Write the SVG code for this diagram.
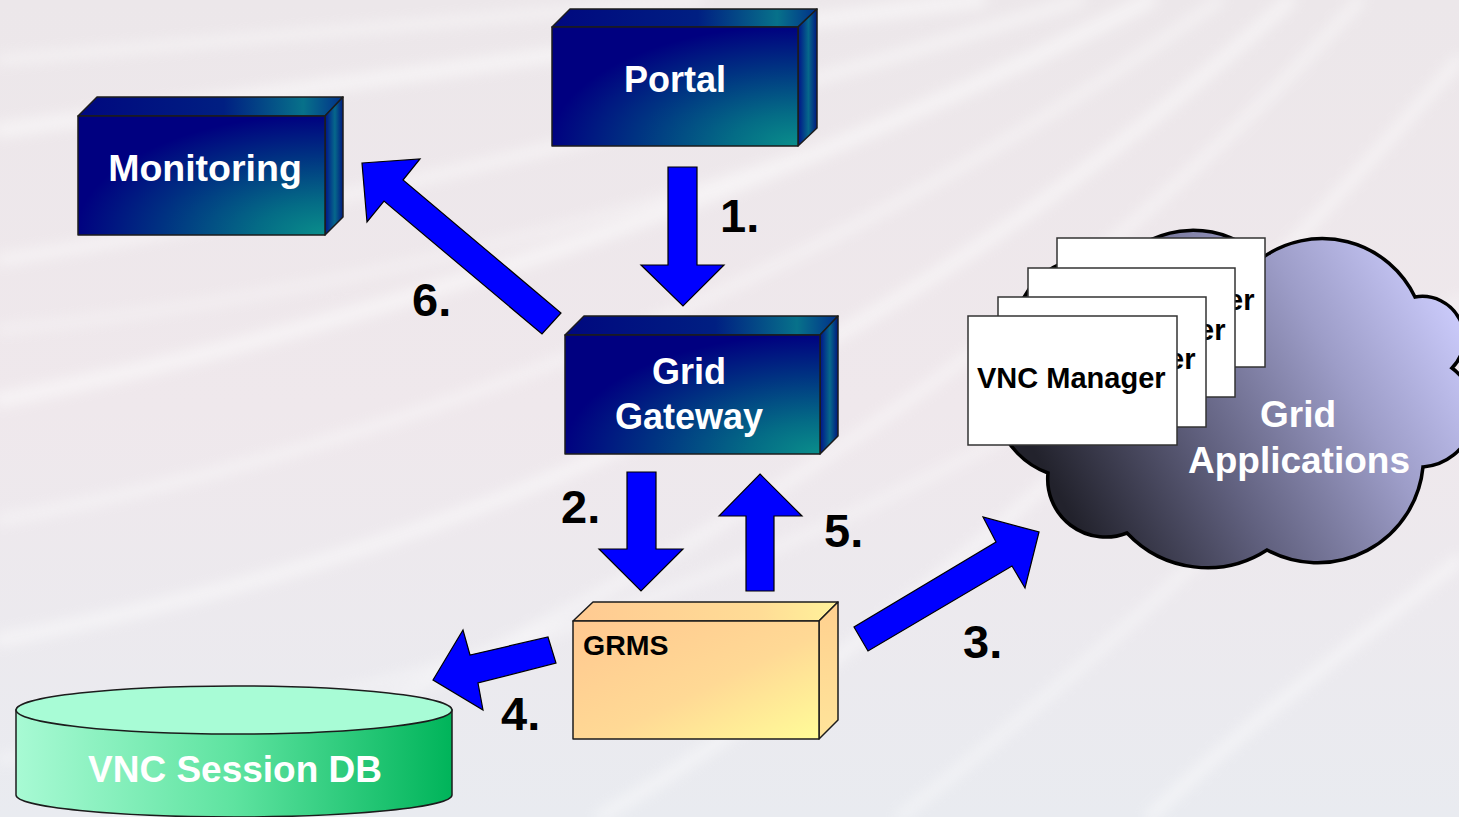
<svg xmlns="http://www.w3.org/2000/svg" width="1459" height="817" viewBox="0 0 1459 817">
  <style>
    .lbl { font-family: "Liberation Sans", Arial, sans-serif; font-weight: bold; }
    .w { fill: #ffffff; }
    .k { fill: #000000; }
    .step { font-size: 47px; fill: #000000; }
    .edge { stroke: #1c1c1c; stroke-width: 1.5; stroke-linejoin: round; }
    .arrow { fill: #0000ff; stroke: #000000; stroke-width: 1.2; stroke-linejoin: miter; }
    .card { fill: #ffffff; stroke: #333333; stroke-width: 1.5; }
  </style>
  <defs>
    <linearGradient id="bg" x1="0" y1="0" x2="0" y2="1">
      <stop offset="0" stop-color="#ece7ea"/>
      <stop offset="0.5" stop-color="#efe8ec"/>
      <stop offset="1" stop-color="#e9ebf0"/>
    </linearGradient>
    <filter id="soft" x="-10%" y="-10%" width="120%" height="120%">
      <feGaussianBlur stdDeviation="7"/>
    </filter>
    <radialGradient id="navyFront" cx="1" cy="1" r="1.1" fx="1" fy="1">
      <stop offset="0" stop-color="#0a8e8b"/>
      <stop offset="0.25" stop-color="#046c86"/>
      <stop offset="0.6" stop-color="#003382"/>
      <stop offset="0.92" stop-color="#000080"/>
    </radialGradient>
    <linearGradient id="navyTop" x1="0" y1="0" x2="1" y2="0">
      <stop offset="0" stop-color="#00087f"/>
      <stop offset="0.55" stop-color="#001f82"/>
      <stop offset="0.85" stop-color="#07718a"/>
      <stop offset="1" stop-color="#01308a"/>
    </linearGradient>
    <linearGradient id="navySide" x1="0" y1="0" x2="1" y2="0">
      <stop offset="0" stop-color="#001288"/>
      <stop offset="0.55" stop-color="#06688b"/>
      <stop offset="1" stop-color="#00187e"/>
    </linearGradient>
    <linearGradient id="peachFront" x1="0" y1="0" x2="1" y2="1">
      <stop offset="0" stop-color="#ffc890"/>
      <stop offset="0.55" stop-color="#ffd995"/>
      <stop offset="1" stop-color="#fffc98"/>
    </linearGradient>
    <linearGradient id="peachTop" x1="0" y1="0" x2="1" y2="0">
      <stop offset="0" stop-color="#ffca92"/>
      <stop offset="0.7" stop-color="#ffdc96"/>
      <stop offset="1" stop-color="#fff29a"/>
    </linearGradient>
    <linearGradient id="peachSide" x1="0" y1="0" x2="0" y2="1">
      <stop offset="0" stop-color="#ffd08f"/>
      <stop offset="1" stop-color="#ffe49a"/>
    </linearGradient>
    <linearGradient id="cloudFill" gradientUnits="userSpaceOnUse" x1="1070" y1="515" x2="1450" y2="300">
      <stop offset="0" stop-color="#22222c"/>
      <stop offset="0.35" stop-color="#60607e"/>
      <stop offset="0.7" stop-color="#9d9dc8"/>
      <stop offset="1" stop-color="#cacafa"/>
    </linearGradient>
    <linearGradient id="dbBody" x1="0" y1="0" x2="1" y2="0">
      <stop offset="0" stop-color="#a8fad4"/>
      <stop offset="0.5" stop-color="#5ee3a0"/>
      <stop offset="1" stop-color="#00b45a"/>
    </linearGradient>
    <!-- visible parts of the stacked cards (the card in front covers the rest) -->
    <clipPath id="clipCard4"><polygon points="1057,238 1265,238 1265,367 1235,367 1235,268 1057,268"/></clipPath>
    <clipPath id="clipCard3"><polygon points="1028,268 1235,268 1235,397 1206,397 1206,297 1028,297"/></clipPath>
    <clipPath id="clipCard2"><polygon points="998,297 1206,297 1206,427 1177,427 1177,316 998,316"/></clipPath>
  </defs>

  <!-- backdrop with soft light streaks -->
  <rect x="0" y="0" width="1459" height="817" fill="url(#bg)"/>
  <g fill="none" stroke="#ffffff" stroke-linecap="round" filter="url(#soft)" opacity="0.55">
    <path d="M0,130 C300,90 650,40 980,0" stroke-width="14"/>
    <path d="M0,260 C320,210 700,120 1080,0" stroke-width="10"/>
    <path d="M0,400 C350,330 760,200 1150,0" stroke-width="14"/>
    <path d="M0,520 C380,450 800,300 1220,0" stroke-width="8"/>
    <path d="M0,640 C420,560 850,400 1290,0" stroke-width="12"/>
    <path d="M120,817 C520,660 980,420 1360,0" stroke-width="9"/>
    <path d="M600,817 C900,640 1180,380 1459,60" stroke-width="10"/>
    <path d="M900,817 C1100,660 1300,470 1459,300" stroke-width="8"/>
    <path d="M1150,817 C1250,720 1360,640 1459,560" stroke-width="10"/>
    <path d="M0,60 C250,40 500,15 700,0" stroke-width="8"/>
    <path d="M0,330 C300,300 600,230 900,120" stroke-width="6"/>
    <path d="M0,760 C400,700 700,600 1000,440" stroke-width="7"/>
  </g>

  <!-- Portal -->
  <g id="portal">
    <polygon class="edge" points="552,27 570,9 817,9 798,27" fill="url(#navyTop)"/>
    <polygon class="edge" points="798,27 817,9 817,128 798,146" fill="url(#navySide)"/>
    <rect class="edge" x="552" y="27" width="246" height="119" fill="url(#navyFront)"/>
    <text class="lbl w" x="675" y="92" font-size="36" text-anchor="middle">Portal</text>
  </g>

  <!-- Monitoring -->
  <g id="monitoring">
    <polygon class="edge" points="78,116 97,97 343,97 325,116" fill="url(#navyTop)"/>
    <polygon class="edge" points="325,116 343,97 343,217 325,235" fill="url(#navySide)"/>
    <rect class="edge" x="78" y="116" width="247" height="119" fill="url(#navyFront)"/>
    <text class="lbl w" x="205" y="181" font-size="37.5" text-anchor="middle">Monitoring</text>
  </g>

  <!-- Grid Gateway -->
  <g id="grid-gateway">
    <polygon class="edge" points="565,335 584,316 838,316 820,335" fill="url(#navyTop)"/>
    <polygon class="edge" points="820,335 838,316 838,436 820,454" fill="url(#navySide)"/>
    <rect class="edge" x="565" y="335" width="255" height="119" fill="url(#navyFront)"/>
    <text class="lbl w" x="689" y="384" font-size="36" text-anchor="middle">Grid</text>
    <text class="lbl w" x="689" y="429" font-size="36" text-anchor="middle">Gateway</text>
  </g>

  <!-- GRMS -->
  <g id="grms">
    <polygon class="edge" points="573,621 593,602 838,602 819,621" fill="url(#peachTop)"/>
    <polygon class="edge" points="819,621 838,602 838,720 819,739" fill="url(#peachSide)"/>
    <rect class="edge" x="573" y="621" width="246" height="118" fill="url(#peachFront)"/>
    <text class="lbl k" x="583" y="655" font-size="28.5">GRMS</text>
  </g>

  <!-- Grid Applications cloud -->
  <g id="grid-applications">
    <path d="M1048,473 A58,58 0 0 0 1127,533 A110,110 0 0 0 1267,550 A106,106 0 0 0 1423,467 A55,55 0 0 0 1452,368 A42,42 0 0 0 1415,297 A103,103 0 0 0 1262,258 A100,100 0 0 0 1120,262 A78,78 0 0 0 1015,345 A80,80 0 0 0 1048,473 Z"
          fill="url(#cloudFill)" stroke="#000000" stroke-width="3.5" stroke-linejoin="miter"/>
    <text class="lbl w" x="1298" y="427" font-size="37" text-anchor="middle">Grid</text>
    <text class="lbl w" x="1299" y="473" font-size="37" text-anchor="middle">Applications</text>
  </g>

  <!-- stacked VNC Manager cards, back to front; only the label ends show past the card in front -->
  <g id="vnc-manager-4">
    <rect class="card" x="1057" y="238" width="208" height="129"/>
    <text class="lbl k" x="1254.5" y="310" font-size="29" text-anchor="end" clip-path="url(#clipCard4)">er</text>
  </g>
  <g id="vnc-manager-3">
    <rect class="card" x="1028" y="268" width="207" height="129"/>
    <text class="lbl k" x="1225.5" y="340" font-size="29" text-anchor="end" clip-path="url(#clipCard3)">er</text>
  </g>
  <g id="vnc-manager-2">
    <rect class="card" x="998" y="297" width="208" height="130"/>
    <text class="lbl k" x="1195.5" y="369" font-size="29" text-anchor="end" clip-path="url(#clipCard2)">er</text>
  </g>
  <g id="vnc-manager-1">
    <rect class="card" x="968" y="316" width="209" height="129"/>
    <text class="lbl k" x="977" y="388" font-size="29">VNC Manager</text>
  </g>

  <!-- VNC Session DB -->
  <g id="vnc-session-db">
    <path d="M16,710 L16,795 A218,22 0 0 0 452,795 L452,710 Z" fill="url(#dbBody)" stroke="#1c1c1c" stroke-width="1.5"/>
    <ellipse cx="234" cy="710" rx="218" ry="24" fill="#a8fcd6" stroke="#1c1c1c" stroke-width="1.5"/>
    <text class="lbl w" x="235" y="782" font-size="37" text-anchor="middle">VNC Session DB</text>
  </g>

  <!-- connectors -->
  <g id="connectors">
    <polygon class="arrow" points="668,167 697,167 697,265 724,265 683,306 641,265 668,265"/>
    <polygon class="arrow" points="627,472 656,472 656,549 683,549 641,591 599,549 627,549"/>
    <polygon class="arrow" points="1039,532 1025,588 1012,566 868,651 854,627 996,542 983,517"/>
    <polygon class="arrow" points="433,680 463,630 470,655 548,637 556,663 478,683 483,710"/>
    <polygon class="arrow" points="760,474 802,516 774,516 774,591 746,591 746,516 719,516"/>
    <polygon class="arrow" points="362,163 420,159 403,180 561,313 542,334 384,201 367,222"/>
    <text class="lbl step" x="720" y="232">1.</text>
    <text class="lbl step" x="561" y="523">2.</text>
    <text class="lbl step" x="963" y="658">3.</text>
    <text class="lbl step" x="501" y="730">4.</text>
    <text class="lbl step" x="824" y="547">5.</text>
    <text class="lbl step" x="412" y="316">6.</text>
  </g>
</svg>
